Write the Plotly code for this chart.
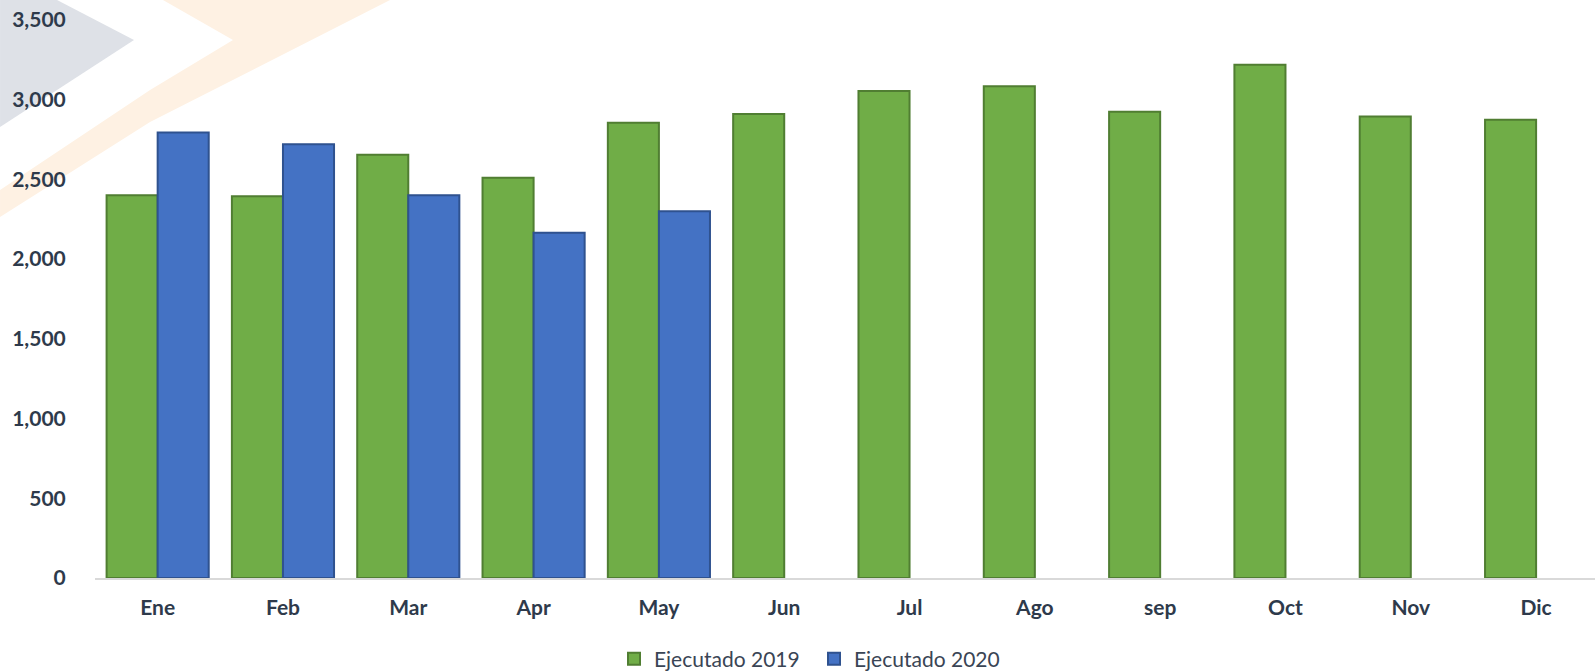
import plotly.graph_objects as go

months = ["Ene", "Feb", "Mar", "Apr", "May", "Jun", "Jul", "Ago", "sep", "Oct", "Nov", "Dic"]
ejecutado_2019 = [2400, 2395, 2655, 2510, 2855, 2910, 3055, 3085, 2925, 3220, 2895, 2875]
ejecutado_2020 = [2795, 2720, 2400, 2165, 2300]
y_ticks = [0, 500, 1000, 1500, 2000, 2500, 3000, 3500]

W, H = 1595, 672
L, R, T, B = 95, 0, 20, 94
pw, ph = W - L - R, H - T - B


def px(x, y):
    return (x - L) / pw, (H - B - y) / ph


def path(points):
    pts = [px(x, y) for x, y in points]
    return "M " + " L ".join(f"{a:.4f},{b:.4f}" for a, b in pts) + " Z"


fig = go.Figure()
fig.add_trace(go.Bar(
    x=months, y=ejecutado_2019, name="Ejecutado 2019",
    marker=dict(color="#70AD47", line=dict(color="#507E32", width=2)),
))
fig.add_trace(go.Bar(
    x=months[:len(ejecutado_2020)], y=ejecutado_2020, name="Ejecutado 2020",
    marker=dict(color="#4472C4", line=dict(color="#2F528F", width=2)),
))

shapes = [
    dict(type="path", xref="paper", yref="paper", layer="below",
         path=path([(0, 0), (57, 0), (134, 40), (0, 127)]),
         fillcolor="#DEE1E7", line=dict(width=0)),
    dict(type="path", xref="paper", yref="paper", layer="below",
         path=path([(163, 0), (390, 0), (150, 122), (0, 217), (0, 190), (150, 90), (233, 40)]),
         fillcolor="#FEF1E3", line=dict(width=0)),
]

tick_font = dict(family="Lato, Calibri, sans-serif", size=21, color="#2E3A4B", weight="bold")

fig.update_layout(
    width=W, height=H,
    margin=dict(l=L, r=R, t=T, b=B, autoexpand=False),
    paper_bgcolor="white", plot_bgcolor="rgba(0,0,0,0)",
    barmode="group", bargap=0.185, bargroupgap=0,
    shapes=shapes,
    showlegend=True,
    legend=dict(orientation="h", xref="container", yref="container",
                x=614 / W, xanchor="left", y=(H - 659) / H, yanchor="middle",
                font=dict(family="Lato, Calibri, sans-serif", size=21, color="#3A4555"),
                itemwidth=30, entrywidth=155, traceorder="normal"),
    xaxis=dict(type="category", categoryorder="array", categoryarray=months,
               range=[-0.5, 11.47], showgrid=False, showline=True, linecolor="#D9D9D9",
               linewidth=2, ticks="outside", ticklen=10, tickcolor="rgba(0,0,0,0)",
               tickfont=tick_font, zeroline=False, automargin=False),
    yaxis=dict(range=[0, 3500], tickvals=y_ticks, tickformat=",d", showgrid=False,
               showline=False, zeroline=False, ticks="outside", ticklen=24,
               tickcolor="rgba(0,0,0,0)", tickfont=tick_font, automargin=False),
)

fig.write_html(
    "out.html",
    config={"displayModeBar": False},
    post_script="document.body.style.margin='0';document.body.style.overflow='hidden';",
)
